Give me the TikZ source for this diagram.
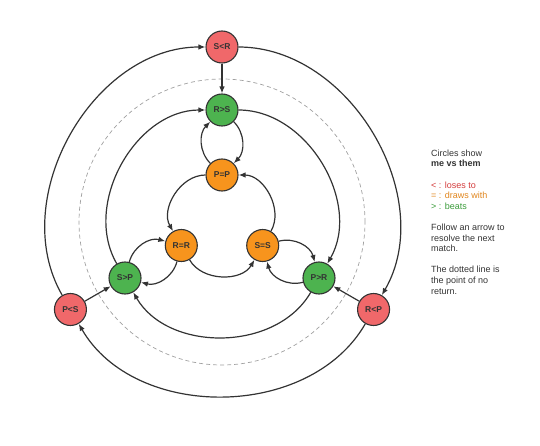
\documentclass[tikz,border=0pt]{standalone}
\usepackage{fontspec}
\setmainfont{Liberation Sans}
\usetikzlibrary{arrows.meta}
\definecolor{redNode}{HTML}{F0686A}
\definecolor{greenNode}{HTML}{4DB34F}
\definecolor{orangeNode}{HTML}{F7941D}
\definecolor{lineDark}{HTML}{333333}
\definecolor{dashGray}{HTML}{A0A0A0}
\definecolor{redText}{HTML}{D33C3C}
\definecolor{orangeText}{HTML}{E0851C}
\definecolor{greenText}{HTML}{3A9B3A}

\begin{document}
\begin{tikzpicture}[x=1pt, y=1pt,
    state/.style={circle, draw=lineDark, line width=1.1pt, minimum size=32pt,
        inner sep=0pt, text=lineDark, font=\bfseries\fontsize{8.5}{10}\selectfont},
    loses/.style={state, fill=redNode},
    beats/.style={state, fill=greenNode},
    draws/.style={state, fill=orangeNode},
    link/.style={draw=lineDark, line width=1.2pt, -{Latex[length=7pt,width=5.5pt]}},
    ring/.style={link, looseness=1.0}
]

    \useasboundingbox (0,0) rectangle (540,445);

    \def\RedRadius{175}
    \def\DashRadius{143}
    \def\GreenRadius{112}
    \def\OrangeRadius{47}

    \begin{scope}[shift={(222,223)}]

        % point of no return
        \draw[dashGray, line width=0.7pt, dash pattern=on 4pt off 3pt] (0,0) circle (\DashRadius);

        \node[loses] (sr) at (90:\RedRadius) {S<R};
        \node[loses] (rp) at (-30:\RedRadius) {R<P};
        \node[loses] (ps) at (210:\RedRadius) {P<S};

        \node[beats] (rs) at (90:\GreenRadius) {R>S};
        \node[beats] (pr) at (-30:\GreenRadius) {P>R};
        \node[beats] (sp) at (210:\GreenRadius) {S>P};

        \node[draws] (pp) at (90:\OrangeRadius) {P=P};
        \node[draws] (ss) at (-30:\OrangeRadius) {S=S};
        \node[draws] (rr) at (210:\OrangeRadius) {R=R};

        % outer ring
        \draw[ring] (sr) to[bend left=60] (rp);
        \draw[ring] (rp) to[bend left=60] (ps);
        \draw[ring] (ps) to[bend left=60] (sr);

        % green ring
        \draw[ring] (rs) to[bend left=60] (pr);
        \draw[ring] (pr) to[bend left=60] (sp);
        \draw[ring] (sp) to[bend left=60] (rs);

        % orange ring
        \draw[ring] (pp) to[bend right=60] (rr);
        \draw[ring] (rr) to[bend right=60] (ss);
        \draw[ring] (ss) to[bend right=60] (pp);

        % red to green
        \draw[link] (sr) -- (rs);
        \draw[link] (rp) -- (pr);
        \draw[link] (ps) -- (sp);

        % green and orange, both ways
        \draw[link] (pp) to[bend left=45] (rs);
        \draw[link] (rs) to[bend left=45] (pp);
        \draw[link] (sp) to[bend left=45] (rr);
        \draw[link] (rr) to[bend left=45] (sp);
        \draw[link] (ss) to[bend left=45] (pr);
        \draw[link] (pr) to[bend left=45] (ss);

    \end{scope}

    \node[anchor=north west, inner sep=0pt, align=left, text=lineDark,
        font=\fontsize{9}{10.6}\selectfont] (legend) at (431,295.5) {%
        Circles show\\
        \textbf{me vs them}\\[10.6pt]
        \textcolor{redText}{< : loses to}\\
        \textcolor{orangeText}{= : draws with}\\
        \textcolor{greenText}{> : beats}\\[10.6pt]
        Follow an arrow to\\
        resolve the next\\
        match.\\[10.6pt]
        The dotted line is\\
        the point of no\\
        return.};

\end{tikzpicture}
\end{document}
